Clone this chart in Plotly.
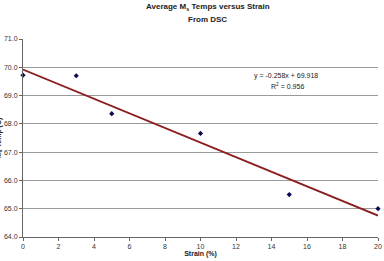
import plotly.graph_objects as go

strain = [0, 3, 5, 10, 15, 20]
ms_temp = [69.72, 69.70, 68.36, 67.66, 65.50, 65.00]
slope = -0.258
intercept = 69.918
fit_x = [0, 20]
fit_y = [slope * x + intercept for x in fit_x]
x_ticks = list(range(0, 21, 2))
y_ticks = [64, 65, 66, 67, 68, 69, 70, 71]

fig = go.Figure()
fig.add_trace(go.Scatter(x=fit_x, y=fit_y, mode="lines",
                         line=dict(color="#8B1E1E", width=1.8), hoverinfo="skip"))
fig.add_trace(go.Scatter(x=strain, y=ms_temp, mode="markers",
                         marker=dict(symbol="diamond", size=4, color="#0A0A50"),
                         cliponaxis=False))

fig.update_layout(
    width=384, height=261,
    margin=dict(l=23, r=2, t=39, b=24),
    paper_bgcolor="white", plot_bgcolor="white",
    showlegend=False,
    font=dict(family="Liberation Sans, Arial, sans-serif", size=7, color="#333"),
)
fig.update_xaxes(range=[0, 20], tickvals=x_ticks, showgrid=False,
                 showline=True, linecolor="#666", linewidth=1,
                 ticks="outside", ticklen=3, tickcolor="#666",
                 zeroline=False, ticklabeloverflow="allow",
                 title=dict(text="<b>Strain (%)</b>", font=dict(size=7, color="#222"), standoff=1))
fig.update_yaxes(range=[64, 71], tickvals=y_ticks, tickformat=".1f",
                 showgrid=True, gridcolor="#9a9a9a", gridwidth=1,
                 showline=True, linecolor="#666", linewidth=1,
                 ticks="outside", ticklen=3, tickcolor="#666",
                 zeroline=False)

fig.add_annotation(x=0.52, y=1.16, xref="paper", yref="paper",
                   text="<b>Average M<sub>s</sub> Temps versus Strain</b>", showarrow=False,
                   font=dict(size=8, color="#222"), xanchor="center", yanchor="middle")
fig.add_annotation(x=0.52, y=1.10, xref="paper", yref="paper",
                   text="<b>From DSC</b>", showarrow=False,
                   font=dict(size=8, color="#222"), xanchor="center", yanchor="middle")
fig.add_annotation(x=0.74, y=0.815, xref="paper", yref="paper",
                   text="y = -0.258x + 69.918", showarrow=False,
                   font=dict(size=7, color="#222"), xanchor="center", yanchor="middle")
fig.add_annotation(x=0.745, y=0.765, xref="paper", yref="paper",
                   text="R<sup>2</sup> = 0.956", showarrow=False,
                   font=dict(size=7, color="#222"), xanchor="center", yanchor="middle")
fig.add_annotation(x=0, y=0.5, xref="paper", yref="paper", xshift=-24,
                   text="<b>M<sub>s</sub> Temp (C)</b>", showarrow=False, textangle=-90,
                   font=dict(size=7, color="#222"), xanchor="center", yanchor="middle")

fig.write_html("out.html")
